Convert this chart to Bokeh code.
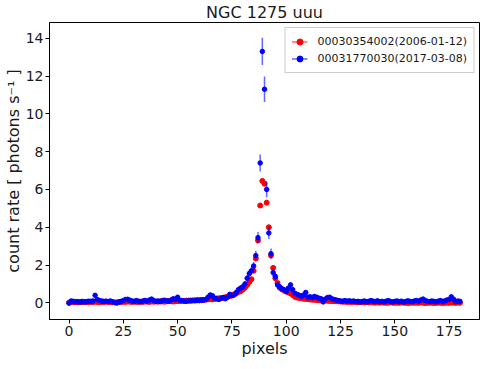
from bokeh.plotting import figure
from bokeh.models import ColumnDataSource, Legend, LegendItem, FixedTicker
from bokeh.embed import file_html
from bokeh.resources import INLINE

# ---------------- data ----------------
pixels = list(range(181))

red_rate = [
    0.02, 0.04, 0.03, 0.05, 0.02, 0.04, 0.03, 0.05, 0.04, 0.03,
    0.05, 0.04, 0.06, 0.05, 0.03, 0.05, 0.04, 0.06, 0.05, 0.04,
    0.03, 0.02, 0.03, 0.05, 0.04, 0.06, 0.05, 0.07, 0.06, 0.05,
    0.06, 0.05, 0.04, 0.06, 0.05, 0.07, 0.06, 0.05, 0.07, 0.06,
    0.07, 0.06, 0.08, 0.07, 0.06, 0.08, 0.09, 0.08, 0.07, 0.09,
    0.10, 0.09, 0.11, 0.10, 0.12, 0.11, 0.13, 0.12, 0.14, 0.13,
    0.15, 0.14, 0.16, 0.17, 0.18, 0.20, 0.19, 0.21, 0.23, 0.24,
    0.25, 0.27, 0.30, 0.32, 0.36, 0.40, 0.45, 0.50, 0.58, 0.62,
    0.70, 0.80, 0.95, 1.10, 1.25, 1.70, 2.35, 3.30, 5.15, 6.45,
    6.30, 5.30, 4.00, 2.50, 1.85, 1.30, 1.05, 0.80, 0.72, 0.65,
    0.60, 0.55, 0.50, 0.42, 0.32, 0.28, 0.26, 0.24, 0.22, 0.21,
    0.20, 0.18, 0.17, 0.16, 0.15, 0.14, 0.13, 0.12, 0.12, 0.11,
    0.10, 0.10, 0.09, 0.08, 0.08, 0.07, 0.06, 0.06, 0.05, 0.05,
    0.04, 0.05, 0.04, 0.03, 0.04, 0.03, 0.02, 0.03, 0.02, 0.03,
    0.02, 0.01, 0.02, 0.01, 0.02, 0.01, 0.00, 0.01, 0.02, 0.01,
    0.00, 0.01, 0.00, 0.02, 0.01, 0.00, -0.01, 0.00, 0.01, 0.00,
    0.01, 0.00, 0.02, 0.01, -0.01, 0.00, 0.01, 0.00, -0.01, 0.00,
    0.01, 0.00, -0.01, 0.00, 0.01, 0.00, 0.02, 0.01, 0.00, 0.01, 0.00,
]

red_err = [
    0.03, 0.03, 0.03, 0.03, 0.03, 0.03, 0.03, 0.03, 0.03, 0.03,
    0.03, 0.03, 0.03, 0.03, 0.03, 0.03, 0.03, 0.03, 0.03, 0.03,
    0.03, 0.03, 0.03, 0.03, 0.03, 0.03, 0.03, 0.03, 0.03, 0.03,
    0.03, 0.03, 0.03, 0.03, 0.03, 0.03, 0.03, 0.03, 0.03, 0.03,
    0.03, 0.03, 0.03, 0.03, 0.03, 0.03, 0.03, 0.03, 0.03, 0.03,
    0.03, 0.03, 0.03, 0.03, 0.03, 0.03, 0.03, 0.03, 0.03, 0.03,
    0.03, 0.03, 0.03, 0.03, 0.03, 0.03, 0.03, 0.03, 0.03, 0.03,
    0.04, 0.04, 0.04, 0.04, 0.04, 0.04, 0.04, 0.05, 0.05, 0.05,
    0.05, 0.05, 0.06, 0.06, 0.07, 0.07, 0.08, 0.09, 0.10, 0.11,
    0.11, 0.10, 0.09, 0.08, 0.07, 0.06, 0.06, 0.05, 0.05, 0.05,
    0.05, 0.05, 0.05, 0.04, 0.04, 0.04, 0.04, 0.04, 0.04, 0.04,
    0.04, 0.04, 0.04, 0.04, 0.04, 0.04, 0.03, 0.03, 0.03, 0.03,
    0.03, 0.03, 0.03, 0.03, 0.03, 0.03, 0.03, 0.03, 0.03, 0.03,
    0.03, 0.03, 0.03, 0.03, 0.03, 0.03, 0.03, 0.03, 0.03, 0.03,
    0.03, 0.03, 0.03, 0.03, 0.03, 0.03, 0.03, 0.03, 0.03, 0.03,
    0.03, 0.03, 0.03, 0.03, 0.03, 0.03, 0.03, 0.03, 0.03, 0.03,
    0.03, 0.03, 0.03, 0.03, 0.03, 0.03, 0.03, 0.03, 0.03, 0.03,
    0.03, 0.03, 0.03, 0.03, 0.03, 0.03, 0.03, 0.03, 0.03, 0.03, 0.03,
]

blue_rate = [
    -0.02, 0.10, 0.08, 0.05, 0.07, 0.03, 0.08, 0.05, 0.06, 0.09,
    0.08, 0.10, 0.40, 0.18, 0.12, 0.10, 0.08, 0.09, 0.07, 0.10,
    0.06, 0.02, -0.01, 0.04, 0.08, 0.12, 0.18, 0.19, 0.14, 0.10,
    0.08, 0.12, 0.09, 0.06, 0.10, 0.13, 0.09, 0.15, 0.20, 0.12,
    0.08, 0.10, 0.07, 0.12, 0.14, 0.11, 0.09, 0.15, 0.22, 0.18,
    0.30, 0.14, 0.12, 0.10, 0.08, 0.12, 0.10, 0.13, 0.11, 0.15,
    0.12, 0.16, 0.14, 0.18, 0.30, 0.42, 0.38, 0.25, 0.22, 0.18,
    0.24, 0.28, 0.22, 0.30, 0.45, 0.38, 0.42, 0.55, 0.70, 0.78,
    0.85, 1.00, 1.30, 1.55, 1.70, 1.95, 2.50, 3.45, 7.40, 13.30,
    11.30, 6.00, 3.70, 2.60, 1.60, 1.40, 0.95, 0.85, 0.75, 0.70,
    0.60, 0.78, 0.95, 0.70, 0.50, 0.45, 0.40, 0.35, 0.42, 0.55,
    0.30, 0.32, 0.28, 0.34, 0.30, 0.25, 0.22, 0.05, 0.20, 0.28,
    0.30, 0.22, 0.18, 0.15, 0.12, 0.10, 0.08, 0.12, 0.09, 0.11,
    0.08, 0.10, 0.06, 0.08, 0.04, 0.07, 0.10, 0.05, 0.08, 0.12,
    0.09, 0.07, 0.11, 0.06, 0.08, 0.05, 0.09, 0.12, 0.07, 0.05,
    0.08, 0.10, 0.06, 0.09, 0.04, 0.07, 0.11, 0.08, 0.06, 0.10,
    0.12, 0.09, 0.15, 0.20, 0.13, 0.08, 0.06, 0.10, 0.08, 0.05,
    0.09, 0.12, 0.08, 0.10, 0.15, 0.18, 0.32, 0.20, 0.06, 0.10, 0.08,
]

blue_err = [
    0.07, 0.07, 0.07, 0.07, 0.07, 0.07, 0.07, 0.07, 0.07, 0.07,
    0.07, 0.08, 0.11, 0.08, 0.07, 0.07, 0.07, 0.07, 0.07, 0.07,
    0.07, 0.07, 0.07, 0.07, 0.07, 0.07, 0.08, 0.08, 0.07, 0.07,
    0.07, 0.07, 0.07, 0.07, 0.07, 0.07, 0.07, 0.08, 0.08, 0.07,
    0.07, 0.07, 0.07, 0.07, 0.08, 0.07, 0.07, 0.08, 0.08, 0.08,
    0.09, 0.08, 0.08, 0.07, 0.07, 0.08, 0.07, 0.08, 0.08, 0.08,
    0.08, 0.08, 0.08, 0.08, 0.09, 0.10, 0.10, 0.09, 0.09, 0.08,
    0.09, 0.09, 0.09, 0.09, 0.10, 0.10, 0.10, 0.11, 0.12, 0.13,
    0.14, 0.15, 0.17, 0.19, 0.20, 0.21, 0.25, 0.30, 0.45, 0.72,
    0.67, 0.42, 0.32, 0.27, 0.21, 0.19, 0.16, 0.15, 0.14, 0.13,
    0.12, 0.13, 0.15, 0.13, 0.11, 0.10, 0.10, 0.10, 0.10, 0.11,
    0.09, 0.09, 0.09, 0.09, 0.09, 0.08, 0.08, 0.07, 0.08, 0.09,
    0.09, 0.08, 0.08, 0.08, 0.07, 0.07, 0.07, 0.07, 0.07, 0.07,
    0.07, 0.07, 0.07, 0.07, 0.07, 0.07, 0.07, 0.07, 0.07, 0.07,
    0.07, 0.07, 0.07, 0.07, 0.07, 0.07, 0.07, 0.07, 0.07, 0.07,
    0.07, 0.07, 0.07, 0.07, 0.07, 0.07, 0.07, 0.07, 0.07, 0.07,
    0.07, 0.07, 0.08, 0.08, 0.07, 0.07, 0.07, 0.07, 0.07, 0.07,
    0.07, 0.07, 0.07, 0.07, 0.08, 0.08, 0.10, 0.08, 0.07, 0.07, 0.07,
]

pixel_halfwidth = 0.5

series_labels = ["00030354002(2006-01-12)", "00031770030(2017-03-08)"]
x_ticks = [0, 25, 50, 75, 100, 125, 150, 175]
y_ticks = [0, 2, 4, 6, 8, 10, 12, 14]

FONT = "DejaVu Sans"


def make_source(rate, err):
    return ColumnDataSource(dict(
        x=pixels,
        y=rate,
        ylo=[r - e for r, e in zip(rate, err)],
        yhi=[r + e for r, e in zip(rate, err)],
        xlo=[x - pixel_halfwidth for x in pixels],
        xhi=[x + pixel_halfwidth for x in pixels],
    ))


p = figure(
    frame_width=430, frame_height=297,
    x_range=(-9, 189), y_range=(-0.88, 14.83),
    output_backend="svg", toolbar_location=None,
    min_border_left=0, min_border_right=3, min_border_top=0, min_border_bottom=0,
    title="NGC 1275 uuu",
)
p.background_fill_color = "white"
p.border_fill_color = "white"
p.grid.visible = False
p.outline_line_color = "black"
p.outline_line_width = 1

p.title.align = "center"
p.title.text_font = FONT
p.title.text_font_size = "16px"
p.title.text_font_style = "normal"
p.title.text_color = "#1a1a1a"
p.title.standoff = 1
p.title.offset = 0

for ax in (p.xaxis[0], p.yaxis[0]):
    ax.major_label_text_font = FONT
    ax.major_label_text_font_size = "14px"
    ax.major_label_text_color = "#1a1a1a"
    ax.axis_label_text_font = FONT
    ax.axis_label_text_font_size = "16px"
    ax.axis_label_text_font_style = "normal"
    ax.axis_label_text_color = "#1a1a1a"
    ax.minor_tick_line_color = None
    ax.major_tick_out = 4
    ax.major_tick_in = 0
    ax.major_tick_line_color = "black"
    ax.axis_line_color = "black"
    ax.major_label_standoff = 2
    ax.axis_label_standoff = 0

p.xaxis[0].ticker = FixedTicker(ticks=x_ticks)
p.yaxis[0].ticker = FixedTicker(ticks=y_ticks)
p.xaxis[0].axis_label = "pixels"
p.yaxis[0].axis_label = "count rate [ photons s\u207b\u00b9 ]"

legend_items = []
for rate, err, color, size, label in (
    (red_rate, red_err, "#ff0000", 5, series_labels[0]),
    (blue_rate, blue_err, "#0000ff", 4.5, series_labels[1]),
):
    src = make_source(rate, err)
    v = p.segment(x0="x", y0="ylo", x1="x", y1="yhi", source=src,
                  line_color=color, line_alpha=0.6, line_width=1.5)
    h = p.segment(x0="xlo", y0="y", x1="xhi", y1="y", source=src,
                  line_color=color, line_alpha=0.6, line_width=1.5)
    d = p.scatter(x="x", y="y", source=src, size=size, marker="circle",
                  fill_color=color, line_color=color, line_width=1)
    legend_items.append(LegendItem(label=label, renderers=[h, d]))

legend = Legend(items=legend_items, location="top_right")
legend.label_text_font = FONT
legend.label_text_font_size = "11px"
legend.label_text_color = "#1a1a1a"
legend.glyph_width = 16
legend.glyph_height = 15
legend.label_height = 15
legend.label_standoff = 10
legend.spacing = 2
legend.padding = 6
legend.margin = 5
legend.border_line_color = "#999999"
legend.border_line_width = 1
legend.background_fill_alpha = 1.0
p.add_layout(legend)

open("out.html", "w").write(file_html(p, INLINE))
